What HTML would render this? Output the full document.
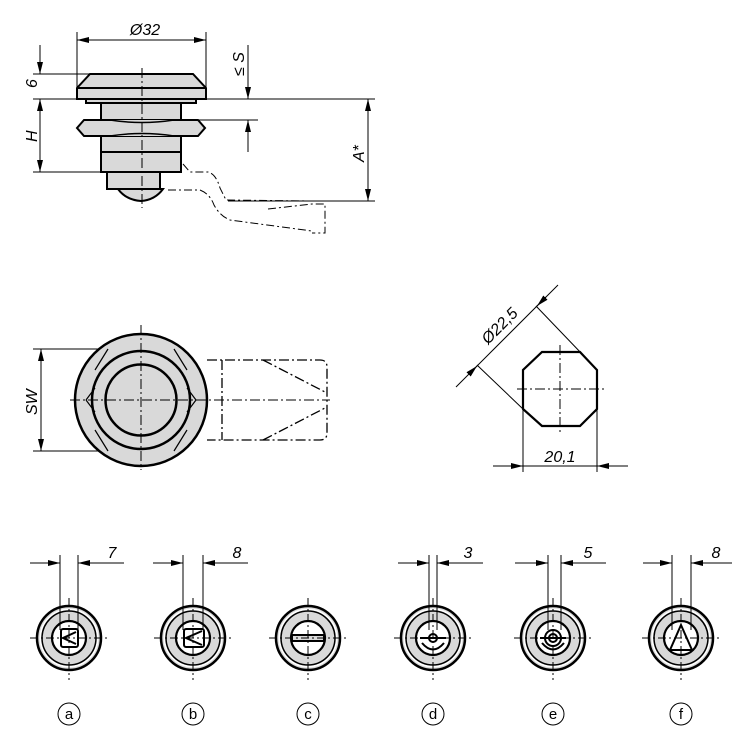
<!DOCTYPE html>
<html><head><meta charset="utf-8"><style>html,body{margin:0;padding:0;background:#fff}svg{display:block}text{font-family:"Liberation Sans",sans-serif;font-style:italic;fill:#000}</style></head><body>
<svg width="750" height="745" viewBox="0 0 750 745" xmlns="http://www.w3.org/2000/svg">
<defs>
<marker id="a" viewBox="0 0 12 6" refX="12" refY="3" markerWidth="12" markerHeight="6" orient="auto-start-reverse" markerUnits="userSpaceOnUse"><path d="M0,0 L12,3 L0,6z" fill="#000"/></marker>
</defs>
<g stroke="#000" fill="none">
<!-- TOP VIEW -->
<g stroke-width="1">
<line x1="77" y1="32" x2="77" y2="88"/><line x1="206" y1="32" x2="206" y2="95"/>
<line x1="77" y1="40" x2="206" y2="40" marker-start="url(#a)" marker-end="url(#a)"/>
<line x1="33" y1="74" x2="92" y2="74"/><line x1="33" y1="99" x2="375" y2="99"/>
<line x1="33" y1="172" x2="110" y2="172"/>
<line x1="40" y1="45" x2="40" y2="74" marker-end="url(#a)"/>
<line x1="40" y1="99" x2="40" y2="172" marker-start="url(#a)" marker-end="url(#a)"/>
<line x1="248" y1="45" x2="248" y2="99" marker-end="url(#a)"/>
<line x1="248" y1="120" x2="248" y2="152" marker-start="url(#a)"/>
<line x1="196" y1="120" x2="258" y2="120"/>
<line x1="368" y1="99" x2="368" y2="201" marker-start="url(#a)" marker-end="url(#a)"/>
<line x1="228" y1="201" x2="375" y2="201"/>
</g>
<g fill="#d9d9d9" stroke-width="2">
<path d="M90,74 L193,74 L206,88 L206,99 L77,99 L77,88 Z"/>
<line x1="77" y1="88" x2="206" y2="88"/>
<rect x="86" y="99" width="110" height="4"/>
<rect x="101" y="103" width="80" height="69"/>
<path d="M84,120 L198,120 L205,128 L198,136 L84,136 L77,128 Z"/>
<path d="M110,120 Q142,125 174,120 M110,136 Q142,131 174,136" stroke-width="1.5"/>
<line x1="101" y1="152" x2="181" y2="152"/>
<rect x="107" y="172" width="53" height="17"/>
<path d="M118,189 L163,189 Q155,200 141,201 Q126,200 118,189 Z"/>
</g>
<line x1="142" y1="68" x2="142" y2="208" stroke-width="1" stroke-dasharray="10,3,2,3"/>
<g stroke-width="1" stroke-dasharray="8,3,2,3">
<path d="M183,164 L190,172 L208,172 Q216,174 220,188 L226,200 L312,201"/>
<path d="M168,190 L200,190 Q210,194 214,205 Q220,216 230,220 L312,231"/>
<path d="M268,209 L312,204 L325,204 L325,233 L312,233"/>
</g>
<!-- MIDDLE LEFT -->
<g stroke-width="1">
<line x1="33" y1="349" x2="112" y2="349"/><line x1="33" y1="451" x2="112" y2="451"/>
<line x1="41" y1="349" x2="41" y2="451" marker-start="url(#a)" marker-end="url(#a)"/>
</g>
<g stroke-width="1.3" stroke-dasharray="10,3,2,3">
<path d="M207,360 L320,360 Q327,360 327,367 L327,433 Q327,440 320,440 L207,440"/>
<line x1="222" y1="360" x2="222" y2="440"/>
<line x1="263" y1="360" x2="325" y2="392"/><line x1="263" y1="440" x2="325" y2="408"/>
</g>
<circle cx="141" cy="400" r="66" fill="#d9d9d9" stroke-width="2.5"/>
<circle cx="141" cy="400" r="49" stroke-width="2.5"/>
<circle cx="141" cy="400" r="35.5" stroke-width="2.5"/>
<path d="M108,349 L95,370 M174,349 L187,370 M95,430 L108,451 M187,430 L174,451 M86,400 L95,388 M86,400 L95,412 M196,400 L187,388 M196,400 L187,412" stroke-width="1.2"/>
<line x1="70" y1="400" x2="330" y2="400" stroke-width="1" stroke-dasharray="10,3,2,3"/>
<line x1="141" y1="325" x2="141" y2="470" stroke-width="1" stroke-dasharray="10,3,2,3"/>
<!-- OCTAGON -->
<path d="M542,352 L580,352 L597,370 L597,409 L580,426 L542,426 L523,409 L523,370 Z" stroke-width="2.2"/>
<line x1="517" y1="389" x2="605" y2="389" stroke-width="1" stroke-dasharray="10,3,2,3"/>
<line x1="560" y1="345" x2="560" y2="432" stroke-width="1" stroke-dasharray="10,3,2,3"/>
<g stroke-width="1">
<line x1="456" y1="387" x2="558" y2="285"/>
<line x1="470" y1="373" x2="477" y2="366" marker-end="url(#a)"/>
<line x1="546" y1="297" x2="537" y2="306" marker-end="url(#a)"/>
<line x1="477" y1="365" x2="523" y2="409"/><line x1="536" y1="306" x2="583" y2="355"/>
<line x1="523" y1="409" x2="523" y2="472"/><line x1="597" y1="409" x2="597" y2="472"/>
<line x1="493" y1="466" x2="523" y2="466" marker-end="url(#a)"/>
<line x1="628" y1="466" x2="597" y2="466" marker-end="url(#a)"/>
<line x1="523" y1="466" x2="597" y2="466"/>
</g>
</g>
<text x="145" y="35" font-size="16" text-anchor="middle">Ø32</text>
<text transform="translate(37,88) rotate(-90)" font-size="16">6</text>
<text transform="translate(37,142) rotate(-90)" font-size="16">H</text>
<text transform="translate(244,76) rotate(-90)" font-size="16">≤ S</text>
<text transform="translate(364,162) rotate(-90)" font-size="16">A*</text>
<text transform="translate(37,415) rotate(-90)" font-size="16">SW</text>
<text transform="translate(488,345) rotate(-45)" font-size="16">Ø22,5</text>
<text x="560" y="462" font-size="16" text-anchor="middle">20,1</text>
<!-- BOTTOM -->
<g stroke="#000" fill="none">
<g fill="#d9d9d9" stroke-width="2.5">
<circle cx="69" cy="638" r="32"/><circle cx="193" cy="638" r="32"/><circle cx="308" cy="638" r="32"/>
<circle cx="433" cy="638" r="32"/><circle cx="553" cy="638" r="32"/><circle cx="681" cy="638" r="32"/>
</g>
<g stroke="#fff" stroke-width="2">
<circle cx="69" cy="638" r="28.5"/><circle cx="193" cy="638" r="28.5"/><circle cx="308" cy="638" r="28.5"/>
<circle cx="433" cy="638" r="28.5"/><circle cx="553" cy="638" r="28.5"/><circle cx="681" cy="638" r="28.5"/>
</g>
<g stroke-width="1.5">
<circle cx="69" cy="638" r="27"/><circle cx="193" cy="638" r="27"/><circle cx="308" cy="638" r="27"/>
<circle cx="433" cy="638" r="27"/><circle cx="553" cy="638" r="27"/><circle cx="681" cy="638" r="27"/>
</g>
<g stroke-width="2.2" fill="#fff">
<circle cx="69" cy="638" r="17"/><circle cx="193" cy="638" r="17"/><circle cx="308" cy="638" r="17"/>
<circle cx="433" cy="638" r="17"/><circle cx="553" cy="638" r="17"/><circle cx="681" cy="638" r="17"/>
</g>
<g stroke-width="2">
<rect x="61" y="629" width="17" height="18" rx="2"/><path d="M76,632 L63,638 L76,644"/>
<rect x="184" y="629" width="20" height="18" rx="2"/><path d="M202,631 L186,638 L202,645"/>
<rect x="292" y="635" width="32" height="6" fill="#d9d9d9"/>
<path d="M420,638 L446,638 M422,643 Q433,656 444,643"/><circle cx="433" cy="638" r="4"/>
<path d="M540,638 L566,638 M542,643 Q553,656 564,643"/><circle cx="553" cy="638" r="8"/><circle cx="553" cy="638" r="4"/>
<path d="M681,625 L692,650 L670,650 Z"/>
</g>
<g stroke-width="1" stroke-dasharray="8,3,2,3">
<line x1="30" y1="638" x2="108" y2="638"/><line x1="69" y1="598" x2="69" y2="680"/>
<line x1="154" y1="638" x2="232" y2="638"/><line x1="193" y1="598" x2="193" y2="680"/>
<line x1="269" y1="638" x2="347" y2="638"/><line x1="308" y1="598" x2="308" y2="680"/>
<line x1="394" y1="638" x2="472" y2="638"/><line x1="433" y1="598" x2="433" y2="680"/>
<line x1="514" y1="638" x2="592" y2="638"/><line x1="553" y1="598" x2="553" y2="680"/>
<line x1="642" y1="638" x2="720" y2="638"/><line x1="681" y1="598" x2="681" y2="680"/>
</g>
<g stroke-width="1">
<line x1="60" y1="555" x2="60" y2="630"/><line x1="78" y1="555" x2="78" y2="630"/>
<line x1="30" y1="563" x2="60" y2="563" marker-end="url(#a)"/><line x1="124" y1="563" x2="78" y2="563" marker-end="url(#a)"/>
<line x1="183" y1="555" x2="183" y2="630"/><line x1="203" y1="555" x2="203" y2="630"/>
<line x1="153" y1="563" x2="183" y2="563" marker-end="url(#a)"/><line x1="248" y1="563" x2="203" y2="563" marker-end="url(#a)"/>
<line x1="429" y1="555" x2="429" y2="630"/><line x1="437" y1="555" x2="437" y2="630"/>
<line x1="398" y1="563" x2="429" y2="563" marker-end="url(#a)"/><line x1="483" y1="563" x2="437" y2="563" marker-end="url(#a)"/>
<line x1="548" y1="555" x2="548" y2="630"/><line x1="561" y1="555" x2="561" y2="630"/>
<line x1="515" y1="563" x2="548" y2="563" marker-end="url(#a)"/><line x1="606" y1="563" x2="561" y2="563" marker-end="url(#a)"/>
<line x1="672" y1="555" x2="672" y2="630"/><line x1="691" y1="555" x2="691" y2="630"/>
<line x1="643" y1="563" x2="672" y2="563" marker-end="url(#a)"/><line x1="732" y1="563" x2="691" y2="563" marker-end="url(#a)"/>
<circle cx="69" cy="714" r="11"/><circle cx="193" cy="714" r="11"/><circle cx="308" cy="714" r="11"/>
<circle cx="433" cy="714" r="11"/><circle cx="553" cy="714" r="11"/><circle cx="681" cy="714" r="11"/>
</g>
</g>
<g font-size="16">
<text x="112" y="558" text-anchor="middle">7</text><text x="237" y="558" text-anchor="middle">8</text>
<text x="468" y="558" text-anchor="middle">3</text><text x="588" y="558" text-anchor="middle">5</text>
<text x="716" y="558" text-anchor="middle">8</text>
</g>
<g font-size="15" text-anchor="middle" style="font-style:normal">
<text x="69" y="719" style="font-style:normal">a</text><text x="193" y="719" style="font-style:normal">b</text><text x="308" y="719" style="font-style:normal">c</text>
<text x="433" y="719" style="font-style:normal">d</text><text x="553" y="719" style="font-style:normal">e</text><text x="681" y="719" style="font-style:normal">f</text>
</g>
</svg>
</body></html>
